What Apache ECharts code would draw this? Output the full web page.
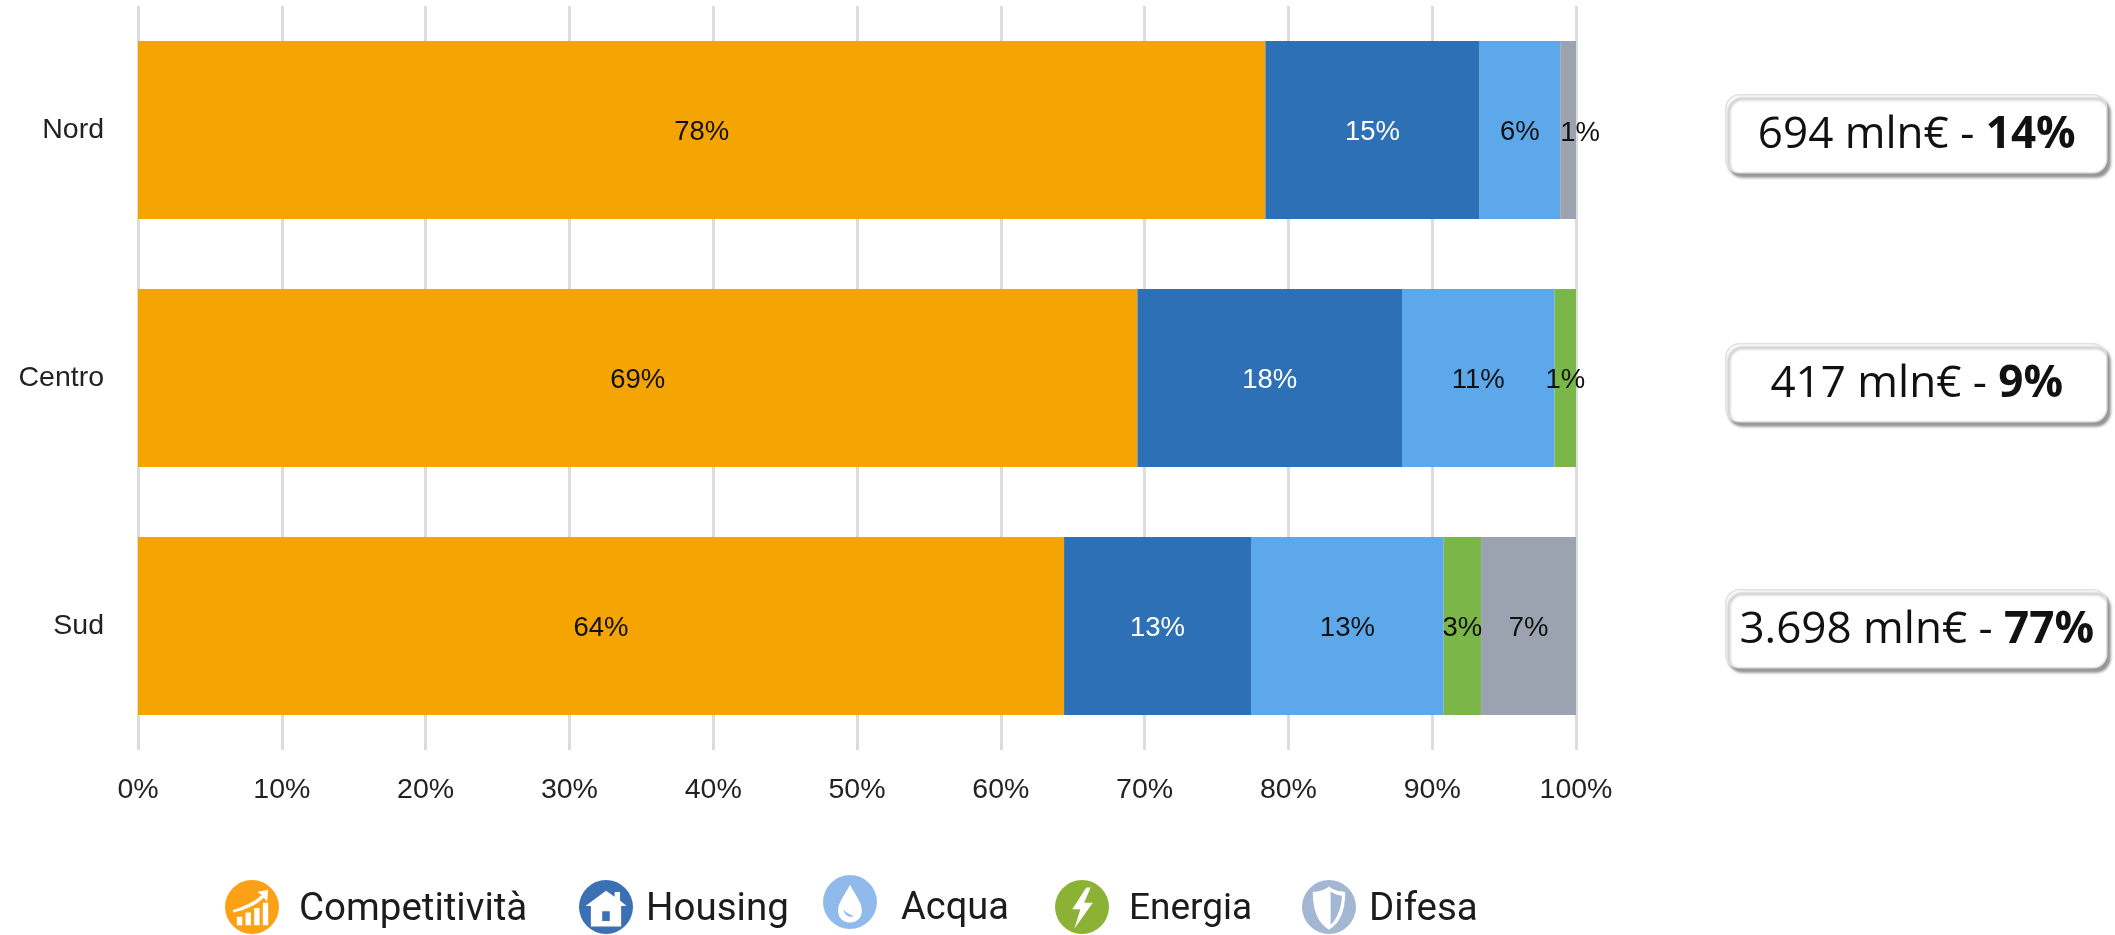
<!DOCTYPE html>
<html><head><meta charset="utf-8">
<style>html,body{margin:0;padding:0;background:#fff}#c{width:2115px;height:935px}</style>
<script src="https://cdn.jsdelivr.net/npm/echarts@6/dist/echarts.min.js"></script>
</head><body><div id="c"></div>
<script>
const categories = ['Nord', 'Centro', 'Sud'];
const seriesNames = ['Competitività', 'Housing', 'Acqua', 'Energia', 'Difesa'];
const competitivita = [78.4, 69.5, 64.4];
const housing = [14.9, 18.4, 13.0];
const acqua = [5.6, 10.61, 13.4];
const energia = [0, 1.49, 2.6];
const difesa = [1.1, 0, 6.6];
const labelCompetitivita = ['78%', '69%', '64%'];
const xTicks = [0, 10, 20, 30, 40, 50, 60, 70, 80, 90, 100];
const boxAmounts = ['694 mln€ - ', '417 mln€ - ', '3.698 mln€ - '];
const boxShares = ['14%', '9%', '77%'];
const barColors = ['#F5A503', '#2E70B5', '#5DA8EA', '#7AB648', '#9BA3B0'];
const iconColors = ['#FCA116', '#3B70B5', '#8FBAEB', '#8BB135', '#A3B6D2'];
const labelColors = ['#111', '#fff', '#111', '#111', '#111'];

const circle = 'M50 0A50 50 0 1 1 50 100A50 50 0 1 1 50 0Z';
const icons = [
  circle + 'M16 60C38 56 58 46 72 33L78 40L80 18L60 22L68 28C55 40 35 50 14 56Z' +
    'M22 68L22 84L32 84L32 68ZM38 60L38 84L48 84L48 60ZM54 52L54 84L64 84L64 52ZM70 42L70 84L80 84L80 42Z',
  circle + 'M50 20L12 48L22 48L22 86L78 86L78 48L88 48L76 38L76 22L66 22L66 31Z' +
    'M43 58L57 58L57 76L43 76Z',
  circle + 'M50 18C38 40 28 52 28 66C28 80 38 88 50 88C62 88 72 80 72 66C72 52 62 40 50 18Z' +
    'M38 64C42 70 50 74 58 76C50 80 40 76 38 64Z',
  circle + 'M58 14L32 54L47 54L36 90L70 42L54 42L66 14Z',
  circle + 'M50 12C40 20 28 22 20 22C20 55 28 78 50 92C72 78 80 55 80 22C72 22 60 20 50 12Z' +
    'M53 21C60 27 66 29 74 29C73 52 66 70 53 83Z'
];
const legendLeft = [225, 579, 823, 1055, 1302];
const legendTop = [880, 880, 875, 880, 880];
const legendGap = [15, 8, 19, 15, 8];
const legendFont = [38.5, 38.5, 38, 37, 38.5];
const legendTextDrop = [3, 3, 7, 3, 3];
const iconSize = 54;

const fontA = '"Liberation Sans", Arial, sans-serif';
const valuesBySeries = [competitivita, housing, acqua, energia, difesa];

const chart = echarts.init(document.getElementById('c'), null, {renderer: 'canvas'});

const series = seriesNames.map((name, i) => ({
  name, type: 'bar', stack: 'tot', barWidth: 178,
  itemStyle: {color: barColors[i]},
  label: {
    show: true, position: 'inside', color: labelColors[i], offset: [0, 2],
    fontFamily: fontA, fontSize: 27.5,
    formatter: p => i === 0 ? labelCompetitivita[p.dataIndex] : (p.value > 0 ? Math.round(p.value) + '%' : '')
  },
  data: valuesBySeries[i].map((v, j) =>
    (name === 'Difesa' && categories[j] === 'Nord')
      ? {value: v, label: {offset: [12, 3]}}
      : v)
}));

const legends = seriesNames.map((name, i) => {
  const h = iconSize + 2 * legendTextDrop[i];
  const tail = 100 * h / iconSize;
  return {
    left: legendLeft[i], top: legendTop[i], orient: 'horizontal', padding: 0,
    itemWidth: iconSize, itemHeight: h, selectedMode: false,
    textStyle: {fontFamily: 'Roboto, sans-serif', fontSize: legendFont[i], color: '#1c1c1c',
      padding: [0, 0, 0, legendGap[i]]},
    data: [{name, icon: 'path://' + icons[i] + 'M50 ' + tail + 'L50 ' + tail, itemStyle: {color: iconColors[i]}}]
  };
});

const boxTop = [94, 343, 589];
const graphic = boxAmounts.map((t, i) => ({
  type: 'group', left: 1725, top: boxTop[i],
  children: [
    {type: 'rect', shape: {x: 0, y: 0, width: 381, height: 78, r: 14},
      style: {fill: '#fff', stroke: '#e0e0e0', lineWidth: 1.5,
        shadowBlur: 3, shadowOffsetX: 3, shadowOffsetY: 4, shadowColor: 'rgba(0,0,0,0.4)'}},
    {type: 'text', x: 191, y: 41,
      style: {
        text: '{a|' + t + '}{b|' + boxShares[i] + '}',
        align: 'center', verticalAlign: 'middle',
        rich: {
          a: {fontFamily: '"Open Sans", sans-serif', fontSize: 44, fill: '#111', color: '#111'},
          b: {fontFamily: '"Open Sans", sans-serif', fontSize: 44, fontWeight: 'bold', fill: '#111', color: '#111'}
        }
      }}
  ]
}));

chart.setOption({
  animation: false,
  backgroundColor: '#fff',
  grid: {left: 138, right: 539, top: 6, bottom: 185, containLabel: false},
  xAxis: {
    type: 'value', min: 0, max: 100, interval: 10,
    axisLine: {show: false}, axisTick: {show: false},
    splitLine: {show: true, lineStyle: {color: '#dcdcdc', width: 3}},
    axisLabel: {margin: 26, fontFamily: fontA, fontSize: 28.5, color: '#222', formatter: v => xTicks.includes(v) ? v + '%' : ''}
  },
  yAxis: {
    type: 'category', inverse: true, data: categories,
    axisLine: {show: false}, axisTick: {show: false},
    axisLabel: {margin: 34, fontFamily: fontA, fontSize: 28.5, color: '#222'}
  },
  legend: legends,
  series,
  graphic
});
</script></body></html>
